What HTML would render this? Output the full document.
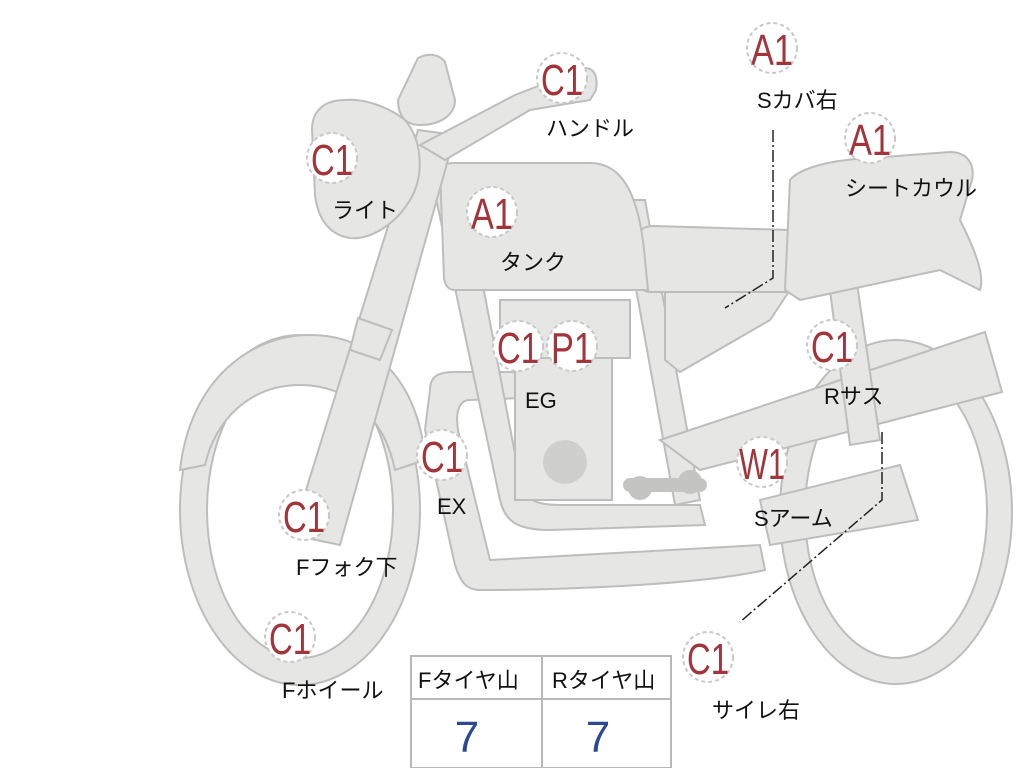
<!DOCTYPE html>
<html><head><meta charset="utf-8"><style>
body{margin:0;background:#fff;width:1024px;height:768px;overflow:hidden;font-family:"Liberation Sans","Noto Sans CJK JP",sans-serif}
svg{position:absolute;left:0;top:0}
.b circle{fill:#fff;stroke:#c8c8c8;stroke-width:2;stroke-dasharray:4 3}
.b text{fill:#a2343a;font-size:44px;font-family:"Liberation Sans Narrow","Liberation Sans",sans-serif;text-anchor:middle}
.l{fill:#111;font-size:22px;font-family:"Liberation Sans","Noto Sans CJK JP",sans-serif}
.p{fill:#e6e6e4;stroke:#bdbdbd;stroke-width:2}
</style></head><body>
<svg width="1024" height="768" viewBox="0 0 1024 768">
<path class="p" fill-rule="evenodd" d="M180,510a120,175 0 1,0 240,0a120,175 0 1,0 -240,0zM207,510a93,148 0 1,0 186,0a93,148 0 1,0 -186,0z"/>
<path class="p" d="M180,470C190,380 250,335 310,335C380,335 420,390 425,460L395,470C385,420 350,385 300,385C250,385 215,420 205,465Z"/>
<path class="p" fill-rule="evenodd" d="M780,512a116,172 0 1,0 232,0a116,172 0 1,0 -232,0zM805,512a91,146 0 1,0 182,0a91,146 0 1,0 -182,0z"/>
<path class="p" d="M430,390C430,375 440,372 455,372L520,372L520,398L470,400C460,400 455,410 458,430L490,560L760,545L765,570C700,585 560,590 480,590C465,590 460,580 455,565L425,430Z"/>
<path class="p" d="M430,170L460,165L520,480C525,500 535,505 560,505L700,505L705,525L550,530C515,530 505,520 500,500Z"/>
<path class="p" d="M620,200L645,200L700,500L675,505Z"/>
<rect class="p" x="500" y="300" width="130" height="58"/>
<path class="p" d="M515,358L612,358L612,500L515,500Z"/>
<circle cx="565" cy="462" r="22" fill="#cfcfcd"/>
<path d="M630,485L700,485" stroke="#c4c4c2" stroke-width="14" stroke-linecap="round"/>
<circle cx="640" cy="488" r="12" fill="#c4c4c2"/><circle cx="690" cy="482" r="12" fill="#c4c4c2"/>
<path class="p" d="M660,440L985,332L1002,392L700,470Z"/>
<path class="p" d="M760,500L900,465L918,520L770,545Z"/>
<path class="p" d="M828,275L855,270L880,440L850,445Z"/>
<path class="p" d="M665,290L790,290L770,320L680,372L665,360Z"/>
<path class="p" d="M640,235C640,228 646,226 655,226L790,230L795,292L650,292C643,292 640,288 640,282Z"/>
<path class="p" d="M790,180C800,168 830,160 870,158L950,152C968,152 975,165 972,180L960,220C975,250 985,275 980,290L940,270L800,300L785,290Z"/>
<path class="p" d="M440,170C440,165 445,163 455,163L590,163C625,163 640,200 645,260L648,290L455,290C448,290 445,285 444,278Z"/>
<path class="p" d="M418,130L455,135L340,545L292,535Z"/>
<path class="p" d="M358,318L392,330L380,360L350,350Z"/>
<path class="p" d="M345,100C365,98 390,108 405,120C422,140 425,175 410,200C395,225 370,240 350,238C330,235 318,220 315,195L312,130C312,110 325,100 345,100Z"/>
<path class="p" d="M420,145L515,95L585,68C595,68 598,78 596,90L590,100L530,110L445,160Z"/>
<path class="p" d="M418,58C430,52 440,55 445,62L455,100C455,115 440,125 420,125C405,125 398,115 398,100Z"/>
<path d="M773,130L773,278L725,308" stroke="#222" stroke-width="1.5" fill="none" stroke-dasharray="12 3 2 3"/>
<path d="M882,432L882,500L740,622" stroke="#222" stroke-width="1.5" fill="none" stroke-dasharray="12 3 2 3"/>
<g class="b">
<circle cx="562" cy="78" r="25"/><text x="562" y="95" textLength="42" lengthAdjust="spacingAndGlyphs">C1</text>
<circle cx="332" cy="158" r="25"/><text x="332" y="175" textLength="42" lengthAdjust="spacingAndGlyphs">C1</text>
<circle cx="492" cy="212" r="25"/><text x="492" y="229" textLength="42" lengthAdjust="spacingAndGlyphs">A1</text>
<circle cx="772" cy="48" r="25"/><text x="772" y="65" textLength="42" lengthAdjust="spacingAndGlyphs">A1</text>
<circle cx="870" cy="138" r="25"/><text x="870" y="155" textLength="42" lengthAdjust="spacingAndGlyphs">A1</text>
<circle cx="518" cy="346" r="25"/><text x="518" y="363" textLength="42" lengthAdjust="spacingAndGlyphs">C1</text>
<circle cx="572" cy="346" r="25"/><text x="572" y="363" textLength="42" lengthAdjust="spacingAndGlyphs">P1</text>
<circle cx="832" cy="345" r="25"/><text x="832" y="362" textLength="42" lengthAdjust="spacingAndGlyphs">C1</text>
<circle cx="442" cy="455" r="25"/><text x="442" y="472" textLength="42" lengthAdjust="spacingAndGlyphs">C1</text>
<circle cx="762" cy="462" r="25"/><text x="762" y="479" textLength="46" lengthAdjust="spacingAndGlyphs">W1</text>
<circle cx="304" cy="515" r="25"/><text x="304" y="532" textLength="42" lengthAdjust="spacingAndGlyphs">C1</text>
<circle cx="290" cy="637" r="25"/><text x="290" y="654" textLength="42" lengthAdjust="spacingAndGlyphs">C1</text>
<circle cx="708" cy="657" r="25"/><text x="708" y="674" textLength="42" lengthAdjust="spacingAndGlyphs">C1</text>
</g>
<g class="l">
<text x="546" y="136">ハンドル</text>
<text x="332" y="218">ライト</text>
<text x="500" y="270">タンク</text>
<text x="757" y="108">Sカバ右</text>
<text x="845" y="196">シートカウル</text>
<text x="525" y="408">EG</text>
<text x="824" y="404">Rサス</text>
<text x="437" y="514">EX</text>
<text x="754" y="526">Sアーム</text>
<text x="296" y="575">Fフォク下</text>
<text x="282" y="698">Fホイール</text>
<text x="712" y="718">サイレ右</text>
</g>
<rect x="411" y="656" width="260" height="112" fill="#fff" stroke="#b8b8b8" stroke-width="2"/>
<line x1="411" y1="699" x2="671" y2="699" stroke="#b8b8b8" stroke-width="2"/>
<line x1="542" y1="656" x2="542" y2="768" stroke="#b8b8b8" stroke-width="2"/>
<text class="l" x="418" y="688">Fタイヤ山</text>
<text class="l" x="552" y="688">Rタイヤ山</text>
<text x="467" y="752" fill="#2c4a94" font-size="44" text-anchor="middle">7</text>
<text x="598" y="752" fill="#2c4a94" font-size="44" text-anchor="middle">7</text>
</svg>
</body></html>
